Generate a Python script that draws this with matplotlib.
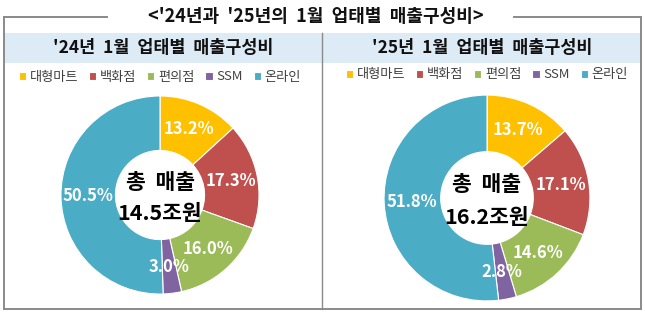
import matplotlib.pyplot as plt
from matplotlib.patches import Rectangle

plt.rcParams['font.family'] = ['Noto Sans CJK KR', 'DejaVu Sans']

categories = ['대형마트', '백화점', '편의점', 'SSM', '온라인']
share_24 = [13.2, 17.3, 16.0, 3.0, 50.5]
share_25 = [13.7, 17.1, 14.6, 2.8, 51.8]
total_24 = '14.5조원'
total_25 = '16.2조원'
colors = ['#FFC000', '#C0504D', '#9BBB59', '#8064A2', '#4BACC6']

W, H = 645, 316
fig = plt.figure(figsize=(W / 100, H / 100), dpi=100)

# background axes in pixel coords (y down)
bg = fig.add_axes([0, 0, 1, 1])
bg.set_xlim(0, W)
bg.set_ylim(H, 0)
bg.axis('off')

gray = '#8a8a8a'
bg.add_patch(Rectangle((4, 33), 637, 30, facecolor='#DCEBF5', edgecolor='none'))
bg.plot([4, 107], [17, 17], color=gray, lw=1.4)
bg.plot([514, 641], [17, 17], color=gray, lw=1.4)
bg.plot([4, 4], [17, 309], color=gray, lw=1.4)
bg.plot([641, 641], [17, 309], color=gray, lw=1.4)
bg.plot([4, 641], [309, 309], color=gray, lw=1.4)
bg.plot([322, 322], [33, 309], color=gray, lw=1.0)

bg.text(316, 17, "<'24년과  '25년의  1월  업태별  매출구성비>", ha='center', va='center',
        fontsize=13, fontweight='bold', color='#111111')
bg.text(163, 48, "'24년  1월  업태별  매출구성비", ha='center', va='center',
        fontsize=12.5, fontweight='bold', color='#111111')
bg.text(482, 48, "'25년  1월  업태별  매출구성비", ha='center', va='center',
        fontsize=12.5, fontweight='bold', color='#111111')


def donut(cx, cy, r, values, total, leg_y):
    ax = fig.add_axes([(cx - r) / W, 1 - (cy + r) / H, 2 * r / W, 2 * r / H])
    wedges, texts, autotexts = ax.pie(
        values, colors=colors, startangle=90, counterclock=False, radius=1,
        autopct='%.1f%%', pctdistance=0.73,
        wedgeprops=dict(width=0.55, edgecolor='white', linewidth=0.8),
        textprops=dict(color='white', fontsize=12, fontweight='bold'))
    ax.set_xlim(-1.02, 1.02)
    ax.set_ylim(-1.02, 1.02)
    ax.set_aspect('equal')
    ax.text(0, 0.13, '총  매출', ha='center', va='center', fontsize=15.5,
            fontweight='bold', color='black')
    ax.text(0, -0.19, total, ha='center', va='center', fontsize=15.5,
            fontweight='bold', color='black')
    fig.legend(wedges, categories, loc='center', ncol=5, frameon=False,
               bbox_to_anchor=(cx / W, 1 - leg_y / H), fontsize=9.5,
               handlelength=0.55, handleheight=0.55, handletextpad=0.3,
               columnspacing=0.8, labelcolor='#404040')
    return ax


donut(160, 195, 101, share_24, total_24, 77)
donut(487, 198, 105, share_25, total_25, 75)

fig.savefig('out.png', dpi=100)
